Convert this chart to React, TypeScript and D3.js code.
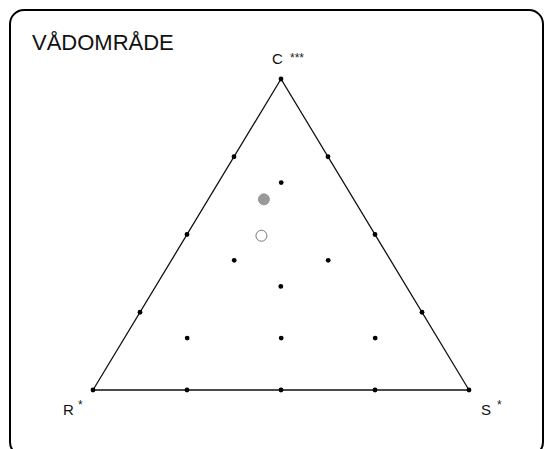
import React from "react";
import * as d3 from "d3";

const title = "VÅDOMRÅDE";
const axisLabels = ["C", "R", "S"];
const axisStars = ["***", "*", "*"];
// grid points as [C, R, S] fractions
const gridC = [1, 0, 0, 0.75, 0.5, 0.25, 0.75, 0.5, 0.25, 0, 0, 0, 0.667, 0.417, 0.417, 0.333, 0.167, 0.167, 0.167];
const gridR = [0, 1, 0, 0.25, 0.5, 0.75, 0, 0, 0, 0.75, 0.5, 0.25, 0.167, 0.417, 0.167, 0.333, 0.667, 0.417, 0.167];
const gridS = [0, 0, 1, 0, 0, 0, 0.25, 0.5, 0.75, 0.25, 0.5, 0.75, 0.167, 0.167, 0.417, 0.333, 0.167, 0.417, 0.667];
// sample points
const sampleC = [0.613, 0.496];
const sampleR = [0.239, 0.304];
const sampleS = [0.148, 0.2];
const sampleFill = ["#999999", "#ffffff"];
const sampleStroke = ["#999999", "#777777"];

export default function App() {
  const x = d3.scaleLinear().domain([0, 1]).range([93, 469]);
  const y = d3.scaleLinear().domain([0, 1]).range([390, 79]);
  const px = (c: number, r: number, s: number) => x(s + c / 2);
  const py = (c: number) => y(c);
  const tri = [
    [px(1, 0, 0), py(1)],
    [px(0, 1, 0), py(0)],
    [px(0, 0, 1), py(0)],
  ];
  const line = d3.line().curve(d3.curveLinearClosed)(tri as [number, number][]) || "";
  const font = "'Liberation Sans', Arial, sans-serif";
  return (
    <svg width={544} height={449} style={{ position: "absolute", left: 0, top: 0, background: "#fff" }}>
      <rect x={10} y={10} width={533} height={446} rx={14} ry={14} fill="#fff" stroke="#000" strokeWidth={2} />
      <text x={32} y={50} fontFamily={font} fontSize={22} fill="#111">{title}</text>
      <path d={line} fill="none" stroke="#111" strokeWidth={1.3} />
      {gridC.map((c, i) => (
        <circle key={i} cx={px(c, gridR[i], gridS[i])} cy={py(c)} r={2.4} fill="#000" />
      ))}
      {sampleC.map((c, i) => (
        <circle key={"s" + i} cx={px(c, sampleR[i], sampleS[i])} cy={py(c)} r={5.5}
          fill={sampleFill[i]} stroke={sampleStroke[i]} strokeWidth={1} />
      ))}
      <text x={272} y={64} fontFamily={font} fontSize={15} fill="#111">{axisLabels[0]}</text>
      <text x={290} y={62} fontFamily={font} fontSize={12} fill="#222">{axisStars[0]}</text>
      <text x={63} y={415} fontFamily={font} fontSize={15} fill="#111">{axisLabels[1]}</text>
      <text x={78} y={409} fontFamily={font} fontSize={12} fill="#222">{axisStars[1]}</text>
      <text x={481} y={415} fontFamily={font} fontSize={15} fill="#111">{axisLabels[2]}</text>
      <text x={497} y={409} fontFamily={font} fontSize={12} fill="#222">{axisStars[2]}</text>
    </svg>
  );
}
